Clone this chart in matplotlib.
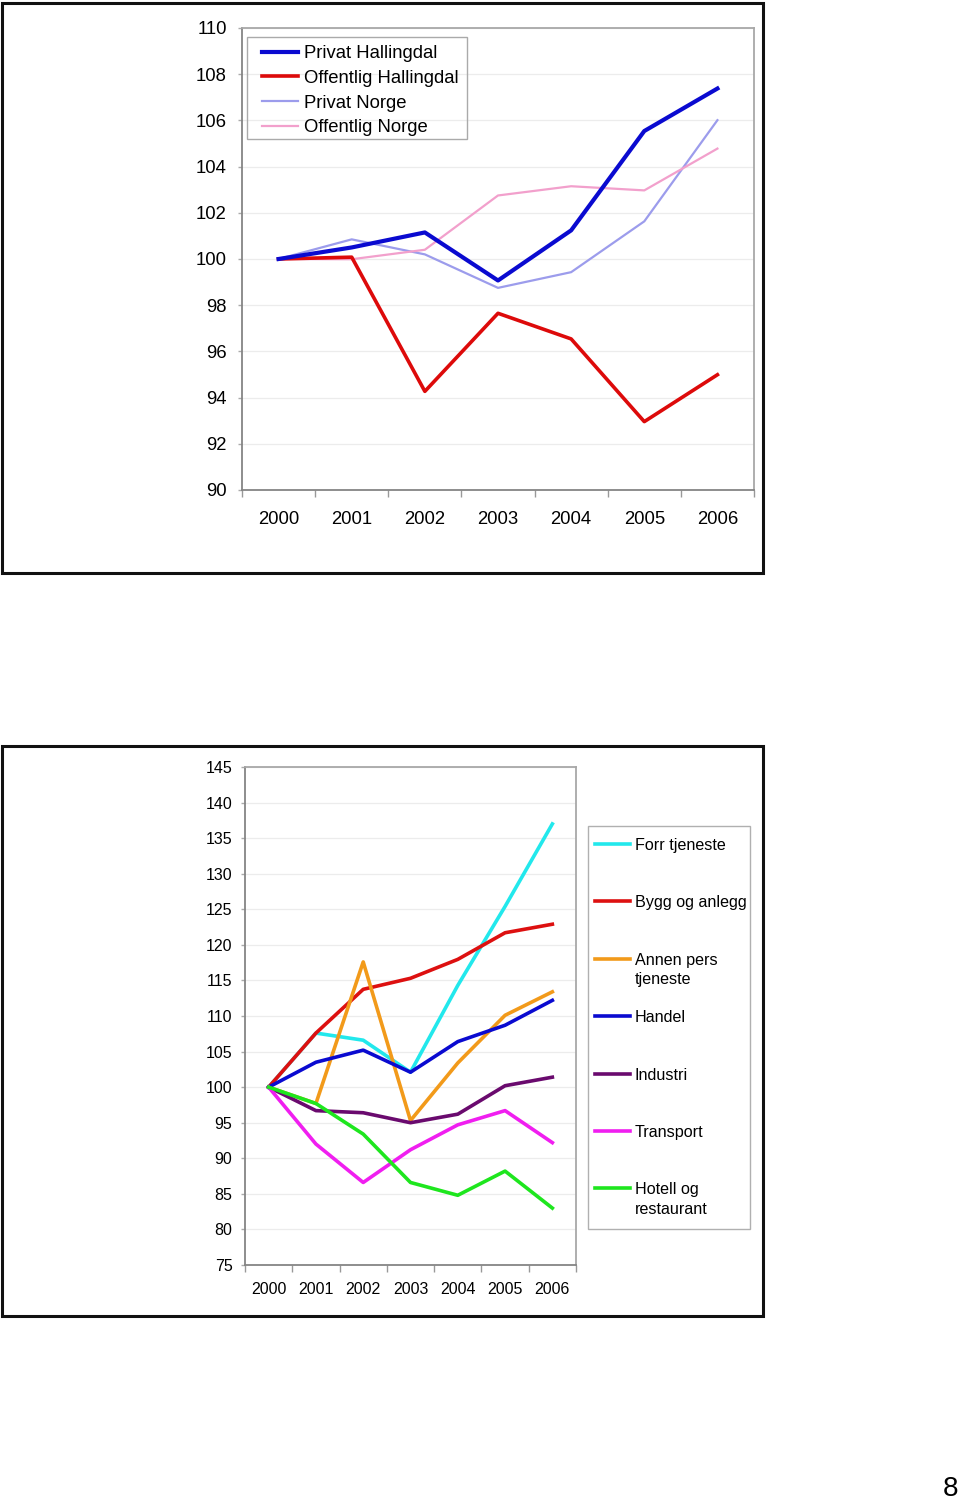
import matplotlib.pyplot as plt
from matplotlib.patches import Rectangle
from matplotlib.lines import Line2D

plt.rcParams['font.family'] = ['Liberation Sans', 'DejaVu Sans']

years = ['2000', '2001', '2002', '2003', '2004', '2005', '2006']

# top chart
privat_hallingdal = [100, 100.5, 101.15, 99.07, 101.24, 105.54, 107.38]
offentlig_hallingdal = [100, 100.08, 94.27, 97.65, 96.54, 92.96, 94.99]
privat_norge = [100, 100.85, 100.2, 98.75, 99.43, 101.63, 106.01]
offentlig_norge = [100, 99.99, 100.4, 102.75, 103.15, 102.97, 104.78]
top_labels = ['Privat Hallingdal', 'Offentlig Hallingdal', 'Privat Norge', 'Offentlig Norge']
top_colors = ['#0a0ad0', '#dd0a0a', '#9c9cec', '#f2a0cc']
top_widths = [3.0, 2.6, 1.6, 1.6]

# bottom chart
forr_tjeneste = [100, 107.6, 106.6, 102.1, 114.3, 125.4, 137.0]
bygg_og_anlegg = [100, 107.6, 113.75, 115.3, 117.96, 121.7, 122.9]
annen_pers = [100, 97.7, 117.6, 95.3, 103.4, 110.1, 113.4]
handel = [100, 103.5, 105.2, 102.1, 106.4, 108.7, 112.2]
industri = [100, 96.7, 96.4, 95.0, 96.2, 100.2, 101.4]
transport = [100, 92.0, 86.6, 91.2, 94.7, 96.7, 92.2]
hotell = [100, 97.7, 93.4, 86.6, 84.8, 88.2, 83.0]
bottom_labels = ['Forr tjeneste', 'Bygg og anlegg', 'Annen pers\ntjeneste', 'Handel',
                 'Industri', 'Transport', 'Hotell og\nrestaurant']
bottom_colors = ['#22e8ec', '#dd1010', '#f29a1a', '#0a0ad0', '#6a0a6e', '#f01ef0', '#1ee61e']

W, H = 960, 1501
fig = plt.figure(figsize=(W / 100, H / 100), dpi=100)


def fx(px):
    return px / W


def fy(py):
    return 1 - py / H


def style_axes(ax, fs, xpad, ypad):
    ax.set_facecolor('white')
    for side in ['left', 'bottom']:
        ax.spines[side].set_color('#858585')
        ax.spines[side].set_linewidth(1.3)
    for side in ['top', 'right']:
        ax.spines[side].set_color('#a8a8a8')
        ax.spines[side].set_linewidth(1.3)
    ax.grid(axis='y', color='#ececec', linewidth=0.9)
    ax.set_axisbelow(True)
    ax.set_xlim(-0.5, len(years) - 0.5)
    ax.set_xticks(list(range(len(years))))
    ax.set_xticklabels(years, fontsize=fs)
    ax.set_xticks([i - 0.5 for i in range(len(years) + 1)], minor=True)
    ax.tick_params(axis='x', which='major', length=0, pad=xpad)
    ax.tick_params(axis='x', which='minor', length=5, color='#999999', width=1)
    ax.tick_params(axis='y', length=3, color='#aaaaaa', width=1, labelsize=fs, pad=ypad)


# frames
for top, bottom in [(3, 573), (746, 1316)]:
    fig.patches.append(Rectangle((fx(2), fy(bottom)), fx(761), (bottom - top) / H,
                                 transform=fig.transFigure, fill=False,
                                 edgecolor='#111111', linewidth=2.2))

# top chart
ax1 = fig.add_axes([fx(242), fy(490), fx(512), (490 - 28) / H])
style_axes(ax1, 13.3, 15, 8)
ax1.set_ylim(90, 110)
ax1.set_yticks(range(90, 111, 2))
x = range(len(years))
for vals, lab, col, lw, z in zip([privat_hallingdal, offentlig_hallingdal, privat_norge, offentlig_norge],
                                 top_labels, top_colors, top_widths, [4, 3, 2, 2]):
    ax1.plot(x, vals, color=col, linewidth=lw, label=lab, zorder=z)
ax1.legend(loc='upper left', bbox_to_anchor=(fx(262), fy(45)), bbox_transform=fig.transFigure,
           fontsize=13.3, frameon=False, handlelength=1.95, handletextpad=0.33,
           labelspacing=0.42, borderpad=0, borderaxespad=0)
fig.patches.append(Rectangle((fx(247), fy(139)), fx(220), (139 - 37) / H,
                             transform=fig.transFigure, fill=False,
                             edgecolor='#aaaaaa', linewidth=1.0, zorder=5))

# bottom chart
ax2 = fig.add_axes([fx(245), fy(1265), fx(331), (1265 - 767) / H])
style_axes(ax2, 11.5, 12.5, 6)
ax2.set_ylim(75, 145)
ax2.set_yticks(range(75, 146, 5))
series = [forr_tjeneste, bygg_og_anlegg, annen_pers, handel, industri, transport, hotell]
for vals, col in zip(series, bottom_colors):
    ax2.plot(x, vals, color=col, linewidth=2.6)

# bottom legend
fig.patches.append(Rectangle((fx(588), fy(1229)), fx(162), (1229 - 826) / H,
                             transform=fig.transFigure, fill=False,
                             edgecolor='#b0b0b0', linewidth=1.0))
for i, (lab, col) in enumerate(zip(bottom_labels, bottom_colors)):
    yy = 844 + i * 57.4
    fig.lines.append(Line2D([fx(595), fx(630)], [fy(yy), fy(yy)], transform=fig.transFigure,
                            color=col, linewidth=2.6))
    for k, part in enumerate(lab.split('\n')):
        fig.text(fx(635), fy(yy + 1.5 + k * 19.5), part, fontsize=11.6, va='center', ha='left')

fig.text(fx(950), fy(1489), '8', fontsize=20, ha='center', va='center')

fig.savefig('out.png', dpi=100)
